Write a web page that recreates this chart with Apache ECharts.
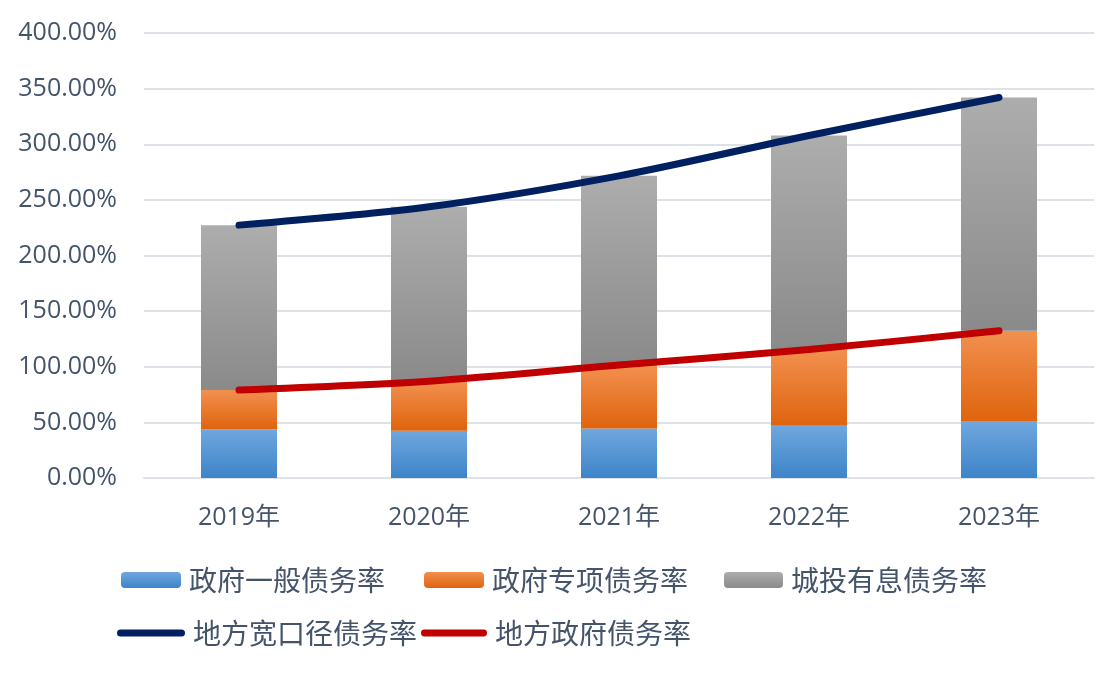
<!DOCTYPE html>
<html>
<head>
<meta charset="utf-8">
<script src="https://cdn.jsdelivr.net/npm/echarts@6/dist/echarts.min.js"></script>
<style>
html,body{margin:0;padding:0;background:#fff;}
#chart{width:1115px;height:683px;}
</style>
</head>
<body>
<div id="chart"></div>
<script>
const categories = ['2019年', '2020年', '2021年', '2022年', '2023年'];
const govGeneral = [43.8, 42.5, 44.6, 47.0, 51.2];
const govSpecial = [35.3, 44.5, 56.9, 68.5, 81.1];
const lgfvDebt = [148.2, 156.8, 170.1, 192.4, 209.7];
const wideDebt = [227.3, 243.8, 271.6, 307.9, 342.0];
const localGovDebt = [79.1, 87.0, 101.5, 115.5, 132.3];
const yTicks = { min: 0, max: 400, interval: 50 };

const names = ['政府一般债务率', '政府专项债务率', '城投有息债务率', '地方宽口径债务率', '地方政府债务率'];
const textColor = '#44546a';
const fontFam = '"Open Sans", "Noto Sans CJK SC", sans-serif';
const gridColor = '#dde1e8';

function grad(top, bottom) {
  return new echarts.graphic.LinearGradient(0, 0, 0, 1, [
    { offset: 0, color: top }, { offset: 1, color: bottom }
  ]);
}

const lineIcon = 'path://M3.5,0 L64.5,0 A3.5,3.5 0 0 1 64.5,7 L3.5,7 A3.5,3.5 0 0 1 3.5,0 Z';
const legendText = { color: textColor, fontSize: 28, fontFamily: '"Noto Sans CJK SC", sans-serif', padding: [0, 0, 0, 3] };

const chart = echarts.init(document.getElementById('chart'));
chart.setOption({
  animation: false,
  backgroundColor: '#fff',
  grid: { left: 144, right: 21, top: 33, bottom: 205, containLabel: false },
  legend: [
    { data: [names[0]], left: 121, top: 566, itemWidth: 60, itemHeight: 16, itemGap: 0, textStyle: legendText, padding: 0 },
    { data: [names[1]], left: 424, top: 566, itemWidth: 60, itemHeight: 16, itemGap: 0, textStyle: legendText, padding: 0 },
    { data: [names[2]], left: 724, top: 566, itemWidth: 59, itemHeight: 16, itemGap: 0, textStyle: legendText, padding: 0 },
    { data: [{ name: names[3], icon: lineIcon }], left: 117, top: 619, itemWidth: 68, itemHeight: 8, itemGap: 0, textStyle: legendText, padding: 0 },
    { data: [{ name: names[4], icon: lineIcon }], left: 421, top: 619, itemWidth: 66, itemHeight: 8, itemGap: 0, textStyle: legendText, padding: 0 }
  ],
  xAxis: {
    type: 'category',
    data: categories,
    axisLine: { show: true, lineStyle: { color: gridColor, width: 2 } },
    axisTick: { show: false },
    axisLabel: { color: textColor, fontSize: 25, fontFamily: fontFam, margin: 27 }
  },
  yAxis: {
    type: 'value',
    min: yTicks.min, max: yTicks.max, interval: yTicks.interval,
    axisLine: { show: false },
    axisTick: { show: false },
    splitLine: { lineStyle: { color: gridColor, width: 2 } },
    axisLabel: {
      color: textColor, fontSize: 25, fontFamily: fontFam, margin: 27,
      formatter: v => v.toFixed(2) + '%'
    }
  },
  series: [
    { name: names[0], type: 'bar', stack: 'a', data: govGeneral, barWidth: '40%',
      itemStyle: { color: grad('#70a7de', '#3d84c9') } },
    { name: names[1], type: 'bar', stack: 'a', data: govSpecial, barWidth: '40%',
      itemStyle: { color: grad('#f2904f', '#df640e') } },
    { name: names[2], type: 'bar', stack: 'a', data: lgfvDebt, barWidth: '40%',
      itemStyle: { color: grad('#adadad', '#8a8a8a') } },
    { name: names[3], type: 'line', data: wideDebt, smooth: 0.3, symbol: 'none', z: 5,
      lineStyle: { color: '#002060', width: 7, cap: 'round' }, itemStyle: { color: '#002060' } },
    { name: names[4], type: 'line', data: localGovDebt, smooth: 0.3, symbol: 'none', z: 5,
      lineStyle: { color: '#c00000', width: 7, cap: 'round' }, itemStyle: { color: '#c00000' } }
  ]
});
</script>
</body>
</html>
